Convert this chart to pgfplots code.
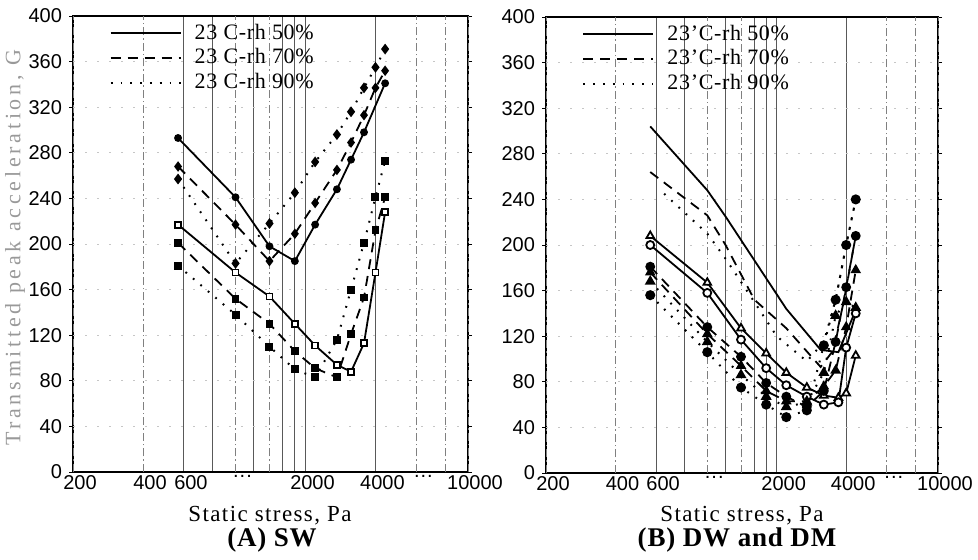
\documentclass[border=0pt]{standalone}
\usepackage{pgfplots}
\pgfplotsset{compat=1.18}
\usepackage{fontspec}
\setmainfont{Liberation Serif}
\newfontfamily\sansf{Liberation Sans}
\newcommand\ddd{.\kern0.5pt.\kern0.5pt.}

\tikzset{
  s50/.style={black, line width=0.9pt, solid},
  s70/.style={black, line width=0.9pt, dash pattern=on 5pt off 3.5pt},
  s90/.style={black, line width=1.0pt, dash pattern=on 0.9pt off 4pt},
}
\pgfplotsset{
  legend image code/.code={\draw[#1] (0pt,0pt) -- (35pt,0pt);},
  every axis/.append style={
    scale only axis, height=228pt,
    xmode=log, xmin=200, xmax=10000, ymin=0, ymax=400,
    ytick={0,40,...,400},
    xtick={600,800,1200,1600,1800,2000,4000},
    xticklabels={600,,,,,2000,4000},
    minor xtick={},
    extra x ticks={200,400,1000,1400,6000,8000,10000},
    extra x tick labels={200,400,\ddd,,\ddd,,10000},
    extra x tick style={xmajorgrids=true, major grid style={black!50, dash pattern=on 4pt off 1.5pt on 0.8pt off 1.5pt, line width=0.5pt}},
    xmajorgrids=true,
    major grid style={black!65, line width=0.5pt},
    tick label style={font=\sansf\fontsize{10}{12}\selectfont},
    xticklabel style={yshift=4pt, xshift=3.5pt},
    /pgf/number format/assume math mode=true,
    axis line style={line width=1.3pt},
    x tick style={draw=none},
    y tick style={black, line width=0.5pt},
    tick align=outside, major tick length=2pt,
    legend style={at={(0.092,0.992)}, anchor=north west, draw=none, fill=none,
      font=\fontsize{11}{13}\addfontfeatures{LetterSpace=3}\selectfont, row sep=-0.8pt,
      inner sep=0pt, /tikz/every odd column/.append style={column sep=4.5pt}},
    legend cell align=left,
  },
}

\begin{document}
\begin{tikzpicture}
\useasboundingbox (0,0) rectangle (489pt,279.5pt);

% ---------------- Panel A ----------------
\begin{axis}[width=197.5pt, at={(36.5pt,43.5pt)}, anchor=south west]
\addlegendimage{s50}\addlegendentry{23 C-rh 50\%}
\addlegendimage{s70}\addlegendentry{23 C-rh 70\%}
\addlegendimage{s90}\addlegendentry{23 C-rh 90\%}
\pgfplotsinvokeforeach{40,80,120,160,200,240,280,320,360}{
  \draw[gray!45, line width=0.4pt, dash pattern=on 1pt off 5pt] (axis cs:200,#1) -- (axis cs:10000,#1);
}
% upper group
\addplot[s50, mark=*, mark size=1.5pt, mark options={solid, fill=black}, forget plot] coordinates {
 (566,293) (1000,241) (1400,198) (1800,185) (2200,217) (2730,248) (3140,274) (3570,298) (4400,341)};
\addplot[s70, mark=diamond*, mark size=1.9pt, mark options={solid, fill=black}, forget plot] coordinates {
 (566,268) (1000,217) (1400,185) (1800,209) (2200,236) (2730,265) (3140,289) (3570,313) (4000,337) (4400,352)};
\addplot[s90, mark=diamond*, mark size=1.9pt, mark options={solid, fill=black}, forget plot] coordinates {
 (566,257) (1000,183) (1400,218) (1800,245) (2200,272) (2730,296) (3140,316) (3570,337) (4000,355) (4400,371)};
% lower group
\addplot[s50, mark=square*, mark size=1.5pt, mark options={solid, fill=white}, forget plot] coordinates {
 (566,217) (1000,175) (1400,154) (1800,130) (2200,111) (2730,94) (3140,88) (3570,113) (4000,175) (4400,228)};
\addplot[s70, mark=square*, mark size=1.5pt, mark options={solid, fill=black}, forget plot] coordinates {
 (566,201) (1000,152) (1400,130) (1800,106) (2200,91) (2730,83) (3140,121) (3570,153) (4000,212) (4400,241)};
\addplot[s90, mark=square*, mark size=1.5pt, mark options={solid, fill=black}, forget plot] coordinates {
 (566,181) (1000,138) (1400,110) (1800,90) (2200,83) (2730,116) (3140,160) (3570,201) (4000,241) (4400,273)};
\end{axis}

% ---------------- Panel B ----------------
\begin{axis}[width=196pt, at={(273pt,43pt)}, anchor=south west]
\addlegendimage{s50}\addlegendentry{23'C-rh 50\%}
\addlegendimage{s70}\addlegendentry{23'C-rh 70\%}
\addlegendimage{s90}\addlegendentry{23'C-rh 90\%}
\pgfplotsinvokeforeach{40,80,120,160,200,240,280,320,360}{
  \draw[gray!45, line width=0.4pt, dash pattern=on 1pt off 5pt] (axis cs:200,#1) -- (axis cs:10000,#1);
}
% upper group (lines)
\addplot[s50, forget plot] coordinates {
 (566,304) (1000,248) (1200,225) (2200,144) (3100,108) (3700,106) (4400,143)};
\addplot[s70, forget plot] coordinates {
 (566,264) (1000,226) (1200,200) (1600,152) (2200,127) (3100,93) (3500,107) (3900,150) (4400,208)};
\addplot[s90, forget plot] coordinates {
 (650,245) (1000,210) (1200,188) (1600,150) (2000,120) (2700,98) (3200,115) (3600,152) (4000,200) (4400,240)};
% lower group
\addplot[s50, mark=triangle*, mark size=2.2pt, mark options={solid, fill=white}, forget plot] coordinates {
 (566,208) (1000,167) (1400,127) (1800,105) (2200,88) (2700,75) (3200,68) (3700,66) (4000,70) (4400,103)};
\addplot[s50, mark=*, mark size=2pt, mark options={solid, fill=white}, forget plot] coordinates {
 (566,200) (1000,158) (1400,117) (1800,92) (2200,77) (2700,67) (3200,60) (3700,62) (4000,110) (4400,140)};
\addplot[s70, mark=triangle*, mark size=2.2pt, mark options={solid, fill=black}, forget plot] coordinates {
 (566,176) (1000,122) (1400,94) (1800,72) (2200,63) (2700,63) (3200,76) (3600,90) (4000,128) (4400,178)};
\addplot[s70, mark=*, mark size=2pt, mark options={solid, fill=black}, forget plot] coordinates {
 (566,181) (1000,128) (1400,102) (1800,79) (2200,67) (2700,58) (3200,72) (3600,115) (4000,163) (4400,208)};
\addplot[s90, mark=triangle*, mark size=2.2pt, mark options={solid, fill=black}, forget plot] coordinates {
 (566,168) (1000,115) (1400,86) (1800,67) (2200,58) (2700,62) (3200,88) (3600,138) (4000,150) (4400,145)};
\addplot[s90, mark=*, mark size=2pt, mark options={solid, fill=black}, forget plot] coordinates {
 (566,156) (1000,106) (1400,75) (1800,60) (2200,49) (2700,55) (3200,112) (3600,152) (4000,200) (4400,240)};
\end{axis}

% labels
\node[rotate=90, text=gray!80, font=\fontsize{11}{13}\addfontfeatures{LetterSpace=17}\selectfont] at (7.5pt,155.5pt) {Transmitted peak acceleration, G};
\node[font=\fontsize{11.5}{13}\addfontfeatures{LetterSpace=6}\selectfont] at (135pt,21.5pt) {Static stress, Pa};
\node[font=\fontsize{11.5}{13}\addfontfeatures{LetterSpace=6}\selectfont] at (371pt,21.5pt) {Static stress, Pa};
\node[font=\fontsize{13.5}{15}\addfontfeatures{LetterSpace=3}\selectfont\bfseries] at (136pt,9.5pt) {(A) SW};
\node[font=\fontsize{13.5}{15}\addfontfeatures{LetterSpace=3}\selectfont\bfseries] at (368.5pt,9.5pt) {(B) DW and DM};
\end{tikzpicture}
\end{document}
